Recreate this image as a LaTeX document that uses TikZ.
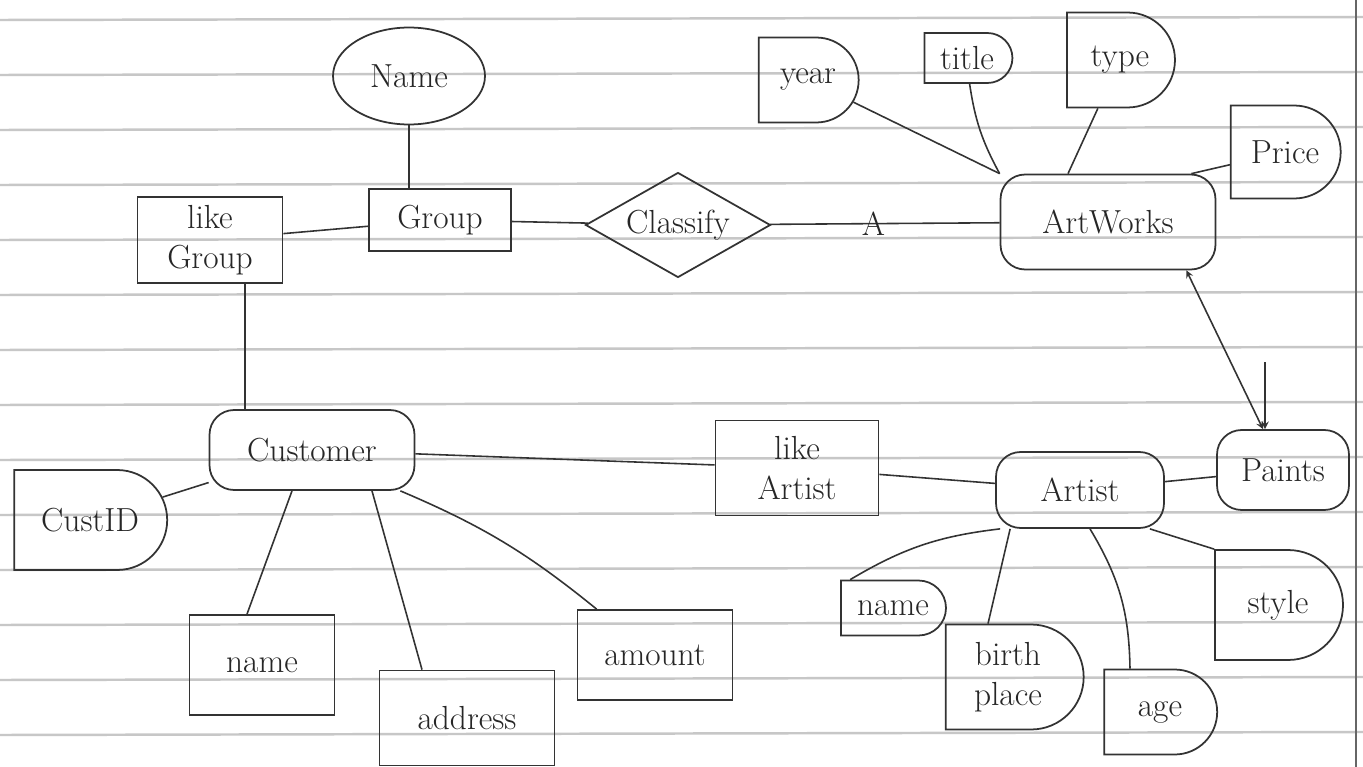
\documentclass[tikz,border=0pt]{standalone}
\usepackage{fontspec}
\usepackage{tikz}
\usetikzlibrary{
    arrows,
    shapes,
    shapes.misc,
    shapes.geometric,
    calc,
    positioning
}

\tikzset{
    every node/.style={font=\fontsize{19}{23}\selectfont, text=black!85},
    box/.style={draw=black!80, line width=1pt, inner sep=2pt, align=center},
    attr/.style={box, rounded rectangle, rounded rectangle left arc=none},
    ent/.style={box, rectangle, rounded corners=14pt},
    rel/.style={box, rectangle},
    link/.style={draw=black!80, line width=0.9pt},
    rule/.style={draw=black!22, line width=1.4pt}
}

\begin{document}
\begin{tikzpicture}[x=0.02cm, y=-0.02cm, >=stealth]
    \useasboundingbox (0, 0) rectangle (1363, 767);
    \fill[white] (0, 0) rectangle (1363, 767);

    % ruled paper
    \foreach \y in {20, 75, ..., 735} {
        \draw[rule] (0, \y) -- (1363, \y - 3);
    }
    \draw[black!60, line width=1.5pt] (1356, 0) -- (1356, 767);

    % group side
    \node[box, ellipse, minimum width=3.04cm, minimum height=1.94cm] (jame) at (409, 76) {Name};
    \node[rel, minimum width=2.84cm, minimum height=1.24cm] (grp) at (440, 220) {Group};
    \node[rel, minimum width=2.9cm, minimum height=1.72cm] (lgrp) at (210, 240) {like\\ Group};
    \node[box, diamond, aspect=1.8, minimum width=3.7cm, minimum height=2.1cm, inner sep=0pt] (cls) at (678, 225) {Classify};

    % artworks
    \node[ent, minimum width=4.3cm, minimum height=1.9cm] (art) at (1108, 222) {ArtWorks};
    \node[attr, minimum width=2.14cm, minimum height=1.7cm] (year) at (808, 80) {year};
    \node[attr, minimum width=1.9cm, minimum height=1.0cm] (title) at (967, 58) {title};
    \node[attr, minimum width=2.3cm, minimum height=1.9cm] (type) at (1120, 60) {type};
    \node[attr, minimum width=2.34cm, minimum height=1.86cm] (price) at (1285, 152) {Price};

    % artist
    \node[ent, minimum width=2.64cm, minimum height=1.6cm] (paints) at (1283, 470) {Paints};
    \node[ent, minimum width=3.36cm, minimum height=1.52cm] (artist) at (1080, 490) {Artist};
    \node[rel, minimum width=3.26cm, minimum height=1.9cm] (lart) at (797, 468) {like\\ Artist};
    \node[attr, minimum width=2.24cm, minimum height=1.1cm] (aname) at (893, 608) {name};
    \node[attr, minimum width=2.9cm, minimum height=2.1cm] (birth) at (1008, 677) {birth\\ place};
    \node[attr, minimum width=2.4cm, minimum height=1.7cm] (age) at (1160, 712) {age};
    \node[attr, minimum width=2.7cm, minimum height=2.2cm] (style) at (1278, 605) {style};

    % customer
    \node[ent, minimum width=4.1cm, minimum height=1.6cm] (cust) at (312, 450) {Customer};
    \node[attr, minimum width=3.2cm, minimum height=2.0cm] (cid) at (90, 520) {CustID};
    \node[rel, minimum width=2.9cm, minimum height=2.0cm] (cname) at (262, 665) {name};
    \node[rel, minimum width=3.5cm, minimum height=1.9cm] (addr) at (467, 718) {address};
    \node[rel, minimum width=3.1cm, minimum height=1.8cm] (amt) at (655, 655) {amount};

    % connectors
    \draw[link] (jame) -- (jame |- grp.north);
    \draw[link] (lgrp) -- (grp);
    \draw[link] (grp) -- (cls);
    \draw[link] (cls) -- node[pos=0.45] {A} (art);
    \draw[link] (year) -- (art.north west);
    \draw[link] (title) to[bend right=10] (art.north west);
    \draw[link] (type) -- ([xshift=-0.8cm]art.north);
    \draw[link] (price) -- ([xshift=-0.5cm]art.north east);
    \draw[link, <->] ([xshift=-0.6cm]art.south east) -- ([xshift=-0.4cm]paints.north);
    \coordinate (tick) at (1265, 362);
    \draw[link, ->] (tick) -- (tick |- paints.north);

    \draw[link] (paints) -- (artist);
    \draw[link] (lart) -- (artist);
    \draw[link] (cust) -- (lart);
    \draw[link] ([xshift=0.7cm]lgrp.south) -- ([xshift=0.7cm]lgrp.south |- cust.north);
    \draw[link] (cust) -- (cid);
    \draw[link] ([xshift=-0.4cm]cust.south) -- ([xshift=-0.3cm]cname.north);
    \draw[link] ([xshift=1.2cm]cust.south) -- ([xshift=-0.9cm]addr.north);
    \draw[link] ([xshift=-0.3cm]cust.south east) to[bend left=8] ([xshift=0.4cm]amt.north west);

    \draw[link] ([xshift=0.1cm]artist.south west) to[bend right=12] ([xshift=0.2cm]aname.north west);
    \draw[link] ([xshift=0.3cm]artist.south west) -- ([xshift=-0.4cm]birth.north);
    \draw[link] ([xshift=0.2cm]artist.south) to[bend left=15] ([xshift=-0.6cm]age.north);
    \draw[link] ([xshift=-0.3cm]artist.south east) -- (style.north west);
\end{tikzpicture}
\end{document}
